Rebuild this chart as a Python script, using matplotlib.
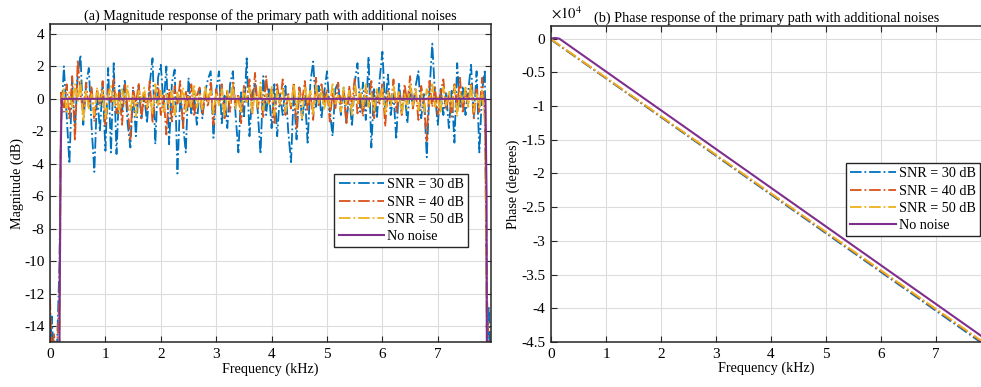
import numpy as np
import matplotlib
matplotlib.use('Agg')
from matplotlib import pyplot as plt
from matplotlib.ticker import FuncFormatter

plt.rcParams['font.family'] = ['Liberation Serif', 'DejaVu Serif']
plt.rcParams['mathtext.fontset'] = 'stix'
plt.rcParams['axes.unicode_minus'] = False

# ---- magnitude data (dB), pass band sampled every 0.05 kHz from 0.20 to 7.85 kHz
band_start = 0.20
band_step = 0.05

mag_30db = [
    -1.5, 2.0, -1.0, -4.0, 1.2, -1.8, 1.5, 2.7, -1.6, 0.8,
    1.9, -1.7, -4.5, 0.4, -2.0, 1.0, -3.2, 1.9, -3.3, 2.2,
    -3.4, 0.8, -0.8, 1.2, -1.5, -3.0, 0.5, -2.3, 0.8, -1.2,
    0.3, -1.5, 0.9, 2.5, -2.8, 1.3, 2.1, -0.5, 2.0, -2.8,
    1.0, 1.8, -4.6, 0.2, -1.5, -3.3, 1.3, -1.0, 0.3, -1.6,
    0.6, -1.2, 0.4, 1.2, 1.7, -2.4, 0.5, 1.7, -1.5, 0.2,
    -1.8, 0.9, 1.7, -1.0, -3.3, 0.4, -1.2, 2.5, -2.3, 0.3,
    1.0, -0.8, -3.4, 1.4, -1.0, 0.6, -1.8, 0.9, -2.3, 0.3,
    -1.0, 0.8, -2.0, -3.9, 0.5, -2.5, 0.7, -1.3, 0.2, -2.7,
    1.0, 2.3, -0.5, 0.8, -1.2, 0.4, 1.7, -0.7, -2.3, 0.6,
    1.0, -1.0, 0.7, -1.5, 0.3, -1.7, 1.0, 2.2, -0.8, 1.0,
    -1.3, 2.6, -3.0, 0.6, -1.2, 1.2, 2.9, -0.5, 1.5, -1.0,
    0.3, -2.5, 1.0, -0.8, 0.5, -1.5, 0.7, -0.5, 0.8, 1.7,
    -1.2, 0.3, -3.6, 0.5, 3.4, 0.2, -1.6, 0.7, -1.0, 0.4,
    -1.8, 0.5, -2.7, 2.2, -0.6, 0.8, -1.0, 0.5, 2.1, -1.2,
    1.7, -3.3, 0.5, 1.8,
]
mag_40db = [
    0.5, -0.8, 0.9, -1.2, 1.4, -2.6, 2.4, 0.3, -0.9, 1.0,
    -0.6, 0.8, -1.4, 0.5, -0.3, 1.1, -1.7, 0.6, -0.2, 1.2,
    -0.9, 0.4, -1.6, 0.9, -0.5, -2.5, 0.7, -0.4, 1.0, -1.2,
    0.3, -0.7, 1.1, -1.5, 0.4, 0.9, -1.0, 0.2, -2.2, 0.6,
    -1.4, 0.8, -0.3, 1.1, -1.8, 0.5, -0.6, 0.9, -1.1, 0.2,
    0.7, -1.0, 0.4, -0.5, 1.0, -1.6, 0.6, -0.3, 0.9, -1.3,
    0.5, -0.8, 1.0, -0.4, 0.3, -1.5, 0.8, -0.2, 1.2, -0.9,
    1.6, -0.6, 0.5, -1.2, 1.4, -0.3, 0.6, -1.6, 0.9, -0.4,
    1.2, -1.0, 0.3, -0.6, 1.0, -1.8, 0.7, -0.2, 1.1, -0.8,
    0.4, -1.3, 1.3, -0.5, 0.9, -0.2, 0.6, -1.4, 0.4, -0.7,
    1.0, -0.3, 0.5, -1.6, 0.8, -0.5, 1.3, -0.9, 0.3, -1.1,
    0.7, -0.4, 1.1, -1.2, 0.5, -0.3, 1.0, -1.7, 0.6, -0.5,
    1.2, -0.8, 0.4, -1.0, 0.9, -0.3, 1.4, -0.6, 0.5, -1.3,
    0.8, -0.2, -2.6, 1.1, -0.5, 0.7, -1.0, 0.4, 1.2, -0.7,
    0.3, -1.1, 0.9, -0.4, 1.3, -0.9, 0.5, -0.3, 1.0, -1.2,
    0.6, -0.8, 1.3, -1.0,
]
mag_50db = [
    -0.3, 0.6, -0.8, 0.4, -0.5, 0.9, -0.2, 1.1, -1.4, 0.5,
    -0.6, 0.3, -1.0, 0.7, -0.4, 0.5, -1.2, 0.2, 0.8, -0.5,
    0.4, -0.9, 0.6, -0.3, 0.8, -0.7, 0.3, -1.1, 0.5, -0.2,
    0.7, -0.6, 0.2, -0.9, 0.9, -0.4, 0.5, -0.8, 0.3, -0.5,
    0.6, -1.0, 0.4, -0.3, 0.7, -0.8, 0.2, -0.5, 0.9, -0.6,
    0.3, -0.7, 0.8, -0.2, 0.5, -0.9, 0.4, -0.4, 0.6, -1.1,
    0.5, -0.3, 0.9, -0.6, 0.2, -0.8, 0.6, -0.2, 0.7, -0.9,
    0.4, -0.5, 1.0, -0.7, 0.3, -0.4, 0.8, -1.0, 0.5, -0.3,
    0.6, -0.8, 0.2, -0.5, 0.9, -0.6, 0.4, -1.2, 0.7, -0.2,
    0.5, -0.9, 0.8, -0.3, 0.6, -0.7, 0.3, -0.5, 1.0, -0.4,
    0.2, -0.8, 0.7, -0.4, 0.5, -1.0, 0.8, -0.3, 0.6, -0.6,
    0.9, -0.5, 0.3, -0.8, 0.6, -0.2, 0.7, -0.9, 0.4, -0.5,
    0.8, -0.3, 0.5, -1.0, 0.3, -0.6, 0.9, -0.4, 0.6, -0.7,
    0.4, -0.8, 0.6, -0.3, 0.9, -0.5, 0.2, -0.9, 0.7, -0.4,
    0.5, -0.6, 0.8, -1.1, 0.4, -0.3, 0.7, -0.5, 0.9, -0.8,
    0.3, -0.6, 0.5, -1.5,
]

# stop-band edges (below the pass band and above it)
edge_lo_freq = [0.0, 0.03, 0.07, 0.12, 0.17]
edge_hi_freq = [7.89, 7.92, 7.95]
edge_lo = {'30': [-16, -13.4, -16, -16, -10.2],
           '40': [-12.3, -16, -14.5, -16, -12.1],
           '50': [-16, -16, -16, -16, -16]}
edge_hi = {'30': [-16, -12.8, -16],
           '40': [-12.3, -16, -16],
           '50': [-16, -16, -16]}

clean_freq = [0.0, 0.17, 0.19, 0.21, 7.86, 7.88, 7.90]
clean_mag = [-40, -15, -4, 0, 0, -6, -40]

# ---- phase data (degrees)
phase_freq = [0.0, 0.05, 7.84]
phase_30db = [0, -450, -45200]
phase_40db = [0, -400, -45000]
phase_50db = [0, -360, -44900]
clean_phase_freq = [0.0, 0.07, 0.15, 7.84]
clean_phase = [0, 100, 0, -44200]

labels = ['SNR = 30 dB', 'SNR = 40 dB', 'SNR = 50 dB', 'No noise']
colors = ['#0072BD', '#D95319', '#EDB120', '#7E2F8E']

band_freq = band_start + band_step * np.arange(len(mag_30db))


def style_axes(ax, right=True):
    ax.grid(True, color='#dcdcdc', linewidth=0.8)
    ax.set_axisbelow(True)
    ax.tick_params(direction='in', top=True, right=right, length=4,
                   labelsize=11, color='#262626', pad=4)
    for s in ax.spines.values():
        s.set_linewidth(1.1)
        s.set_color('#262626')


def add_legend(ax, anchor):
    leg = ax.legend(loc='upper right', bbox_to_anchor=anchor, borderaxespad=0,
                    fancybox=False, edgecolor='#262626', fontsize=10.2,
                    handlelength=3.2, labelspacing=0.3, borderpad=0.3,
                    handletextpad=0.2, framealpha=1)
    leg.get_frame().set_linewidth(1.0)
    return leg


fig = plt.figure(figsize=(9.81, 3.87), dpi=100)
ax1 = fig.add_axes([0.051, 0.1155, 0.4495, 0.822])
ax2 = fig.add_axes([0.5617, 0.1163, 0.4393, 0.817])

# magnitude
series = [('30', mag_30db), ('40', mag_40db), ('50', mag_50db)]
for (key, vals), c, lab in zip(series, colors, labels):
    f = np.concatenate([edge_lo_freq, band_freq, edge_hi_freq])
    m = np.concatenate([edge_lo[key], vals, edge_hi[key]])
    ax1.plot(f, m, linestyle='-.', color=c, linewidth=1.3, label=lab)
ax1.plot(clean_freq, clean_mag, color=colors[3], linewidth=1.5, label=labels[3])

ax1.set_xlim(0, 7.96)
ax1.set_ylim(-15, 4.6)
ax1.set_xticks(range(0, 8))
ax1.set_yticks(range(-14, 5, 2))
ax1.set_xlabel('Frequency (kHz)', fontsize=10.2, labelpad=1)
ax1.set_ylabel('Magnitude (dB)', fontsize=10.2, labelpad=0)
ax1.set_title('(a) Magnitude response of the primary path with additional noises',
              fontsize=10.2, pad=3)
style_axes(ax1)
add_legend(ax1, (0.948, 0.529))

# phase
for vals, c, lab in zip([phase_30db, phase_40db, phase_50db], colors, labels):
    ax2.plot(phase_freq, vals, linestyle='-.', color=c, linewidth=1.3, label=lab)
ax2.plot(clean_phase_freq, clean_phase, color=colors[3], linewidth=1.5, label=labels[3])

ax2.set_xlim(0, 7.836)
ax2.set_ylim(-45000, 1900)
ax2.set_xticks(range(0, 8))
ax2.set_yticks(np.arange(-45000, 1, 5000))
ax2.yaxis.set_major_formatter(FuncFormatter(lambda v, p: '%g' % (v / 1e4)))
ax2.set_xlabel('Frequency (kHz)', fontsize=10.2, labelpad=1)
ax2.set_ylabel('Phase (degrees)', fontsize=10.2, labelpad=1)
ax2.set_title('(b) Phase response of the primary path with additional noises',
              fontsize=10.2, pad=3)
ax2.text(0.0, 1.012, r'$\times10^{4}$', transform=ax2.transAxes, fontsize=10.5,
         ha='left', va='bottom')
style_axes(ax2, right=False)
add_legend(ax2, (0.995, 0.5655))

fig.savefig('out.png', dpi=100)
